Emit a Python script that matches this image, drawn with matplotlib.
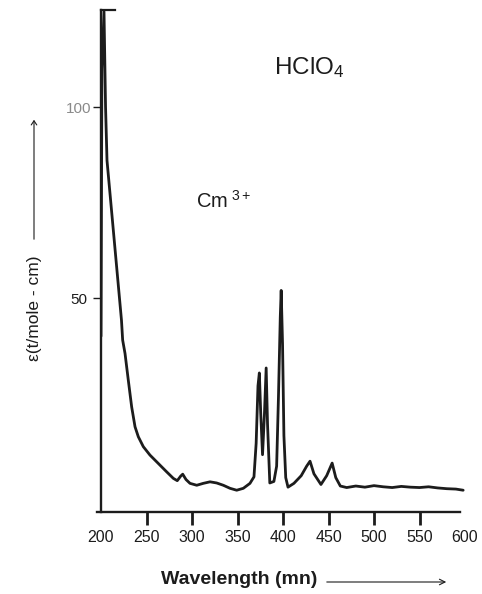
import matplotlib
matplotlib.use("Agg")
import matplotlib.pyplot as plt
from matplotlib.patches import FancyArrowPatch

plt.rcParams['font.family'] = ['Liberation Sans', 'DejaVu Sans']
plt.rcParams['mathtext.fontset'] = 'custom'
plt.rcParams['mathtext.rm'] = 'Liberation Sans'
plt.rcParams['mathtext.it'] = 'Liberation Sans'

# ---- data ----
wavelength = [200, 201, 203.3, 205, 206.6, 222.5, 223.8, 226.4, 230.0, 233.7,
              237.4, 241.0, 246.5, 253.8, 263.0, 272.2, 279.5, 283.8, 287.6, 289.8,
              293.4, 297.8, 305.2, 312.4, 319.8, 327.1, 334.4, 341.8, 349.1, 356.4,
              363.7, 368.1, 370.5, 372.5, 374, 375.5, 377.5, 379.5, 381.5, 383,
              385.5, 390, 393, 395, 397, 398, 399.5, 401, 403, 405.5,
              412, 420, 426, 429.7, 434, 441.7, 448, 454, 458, 463,
              470, 480, 490, 500, 510, 520, 530, 540, 550, 560,
              570, 580, 590, 598]
epsilon = [40, 110, 125, 100, 86, 44.2, 39.0, 35.5, 28.5, 21.5,
           16.3, 13.7, 11.1, 8.9, 6.7, 4.5, 2.8, 2.2, 3.4, 3.9,
           2.5, 1.5, 1.0, 1.5, 1.9, 1.6, 1.0, 0.2, -0.3, 0.2,
           1.5, 3.2, 12, 27, 30.4, 20, 9, 19, 31.7, 17,
           1.6, 2, 6, 24, 45, 52, 38, 14, 3, 0.5,
           1.5, 3.5, 6, 7.3, 4, 1.2, 3.5, 6.8, 3, 0.8,
           0.4, 0.8, 0.5, 0.9, 0.6, 0.4, 0.7, 0.5, 0.4, 0.6,
           0.3, 0.1, 0.0, -0.3]
x_ticks = [200, 250, 300, 350, 400, 450, 500, 550, 600]
y_ticks = [50, 100]

W, H = 482, 594
fig = plt.figure(figsize=(W / 100, H / 100), dpi=100)
# axes: x 101..465 px, y 10..512 px (from top)
ax = fig.add_axes([101 / W, (H - 512) / H, (465 - 101) / W, (512 - 10) / H])
ax.set_xlim(200, 600)
ax.set_ylim(-6.0, 125.4)

ink = '#1c1c1c'
ax.plot(wavelength, epsilon, color=ink, lw=2.0, solid_joinstyle='round',
        solid_capstyle='round')

for s in ['top', 'right']:
    ax.spines[s].set_visible(False)
for s in ['left', 'bottom']:
    ax.spines[s].set_linewidth(1.7)
    ax.spines[s].set_color(ink)
ax.spines['bottom'].set_bounds(196, 595)

# top cap of y axis
ax.plot([0, 14 / (465 - 101)], [1, 1], transform=ax.transAxes, color=ink,
        lw=1.6, clip_on=False)

ax.set_xticks(x_ticks)
ax.set_xticklabels([str(v) for v in x_ticks])
ax.tick_params(axis='x', direction='out', length=9, width=2.0, pad=4,
               labelsize=11.5, colors=ink)
ticks = ax.xaxis.get_major_ticks()
ticks[0].tick1line.set_visible(False)
ticks[-1].tick1line.set_visible(False)

ax.set_yticks(y_ticks)
ax.set_yticklabels([str(v) for v in y_ticks])
ax.tick_params(axis='y', direction='out', length=6, width=1.0, pad=1,
               labelsize=11, colors=ink)
ylab = ax.get_yticklabels()
ylab[1].set_color('#8a8a8a')
yt = ax.yaxis.get_major_ticks()
yt[1].tick1line.set_color('#8a8a8a')
yt[1].tick1line.set_linestyle((0, (2, 1)))
yt[0].set_pad(4)

# annotations
fig.text(274 / W, 1 - 68 / H, r'$\mathrm{HClO}_4$', fontsize=17.5, color=ink,
         ha='left', va='center')
fig.text(196 / W, 1 - 201 / H, r'$\mathrm{Cm}^{\ 3+}$', fontsize=14.5, color=ink,
         ha='left', va='center')

# y label with arrow
fig.text(34 / W, 1 - 308 / H, 'ε(t/mole - cm)', rotation=90, fontsize=12.5,
         color=ink, ha='center', va='center')
fig.add_artist(FancyArrowPatch(
    (34 / W, 1 - 242 / H), (34 / W, 1 - 117 / H), transform=fig.transFigure,
    arrowstyle='->,head_length=3,head_width=2', color=ink, lw=0.8))

# x label with arrow
fig.text(161 / W, 1 - 579 / H, 'Wavelength (mn)', fontsize=14,
         fontweight='bold', color=ink, ha='left', va='center')
fig.add_artist(FancyArrowPatch(
    (324 / W, 1 - 582 / H), (449 / W, 1 - 582 / H), transform=fig.transFigure,
    arrowstyle='->,head_length=4,head_width=2', color=ink, lw=0.8))

fig.savefig('out.png', dpi=100, facecolor='white')
